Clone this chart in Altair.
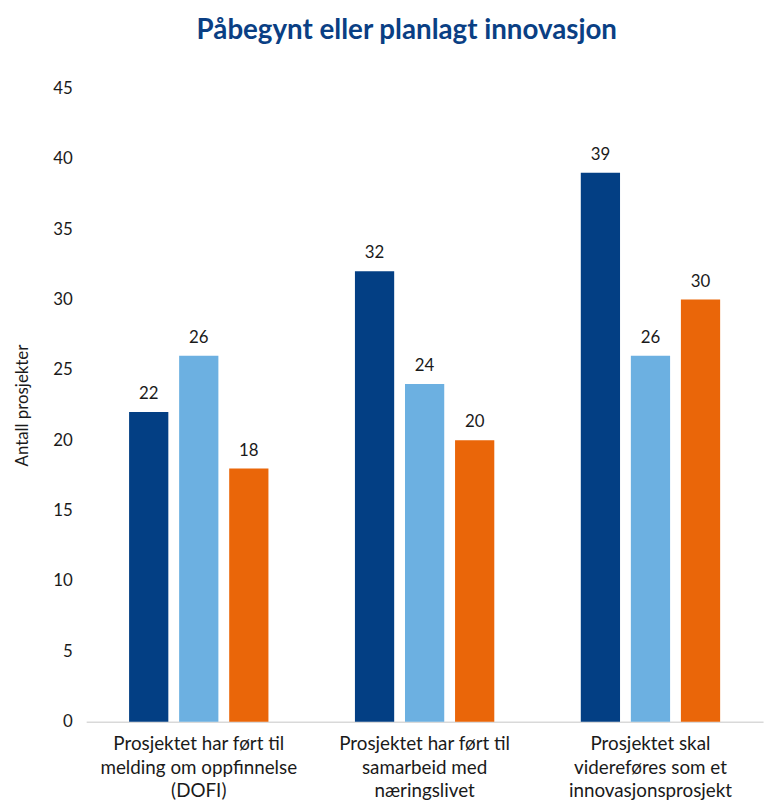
import altair as alt
import pandas as pd

categories = [
    "Prosjektet har ført til\nmelding om oppfinnelse\n(DOFI)",
    "Prosjektet har ført til\nsamarbeid med\nnæringslivet",
    "Prosjektet skal\nvidereføres som et\ninnovasjonsprosjekt",
]
series = ["Serie 1", "Serie 2", "Serie 3"]
values_s1 = [22, 32, 39]
values_s2 = [26, 24, 26]
values_s3 = [18, 20, 30]
colors = ["#033F84", "#6CB0E1", "#EA6609"]
y_ticks = [0, 5, 10, 15, 20, 25, 30, 35, 40, 45]

rows = []
for s, vals in zip(series, [values_s1, values_s2, values_s3]):
    for c, v in zip(categories, vals):
        rows.append({"kategori": c, "serie": s, "antall": v})
df = pd.DataFrame(rows)

FONT = "Lato"

base = alt.Chart(df).encode(
    x=alt.X(
        "kategori:N",
        sort=categories,
        scale=alt.Scale(paddingInner=0.383, paddingOuter=0.19),
        axis=alt.Axis(
            title=None,
            labelAngle=0,
            labelExpr="split(datum.label, '\\n')",
            labelFontSize=19,
            labelColor="#1a1a1a",
            labelFont=FONT,
            labelLineHeight=24,
            labelPadding=13,
            ticks=False,
            domainColor="#D9D9D9",
            domainWidth=1.5,
            labelLimit=300,
            grid=False,
        ),
    ),
    xOffset=alt.XOffset("serie:N", sort=series,
                        scale=alt.Scale(paddingInner=0.216, paddingOuter=0)),
)

bars = base.mark_bar().encode(
    y=alt.Y(
        "antall:Q",
        scale=alt.Scale(domain=[0, 45], nice=False),
        axis=alt.Axis(
            title="Antall prosjekter",
            titleFontSize=17,
            titleFontWeight="normal",
            titleFont=FONT,
            titleColor="#1a1a1a",
            titlePadding=22,
            values=y_ticks,
            labelFontSize=17,
            labelFont=FONT,
            labelColor="#1a1a1a",
            labelPadding=14,
            ticks=False,
            domain=False,
            grid=False,
        ),
    ),
    color=alt.Color("serie:N", sort=series,
                    scale=alt.Scale(domain=series, range=colors), legend=None),
)

text = base.mark_text(dy=-18, fontSize=17, font=FONT, color="#1a1a1a").encode(
    y=alt.Y("antall:Q"),
    text=alt.Text("antall:Q"),
)

chart = (
    alt.layer(bars, text)
    .properties(
        width=684,
        height=640,
        background="white",
        title=alt.TitleParams(
            "Påbegynt eller planlagt innovasjon",
            fontSize=28,
            font=FONT,
            fontWeight="bold",
            color="#0A3F84",
            anchor="middle",
            dx=-18,
            offset=35,
        ),
    )
    .configure_view(strokeWidth=0, stroke="transparent")
    .configure_axisY(domain=False, grid=False, ticks=False)
)

chart.save("out.html", embed_options={"renderer": "svg", "actions": False})
